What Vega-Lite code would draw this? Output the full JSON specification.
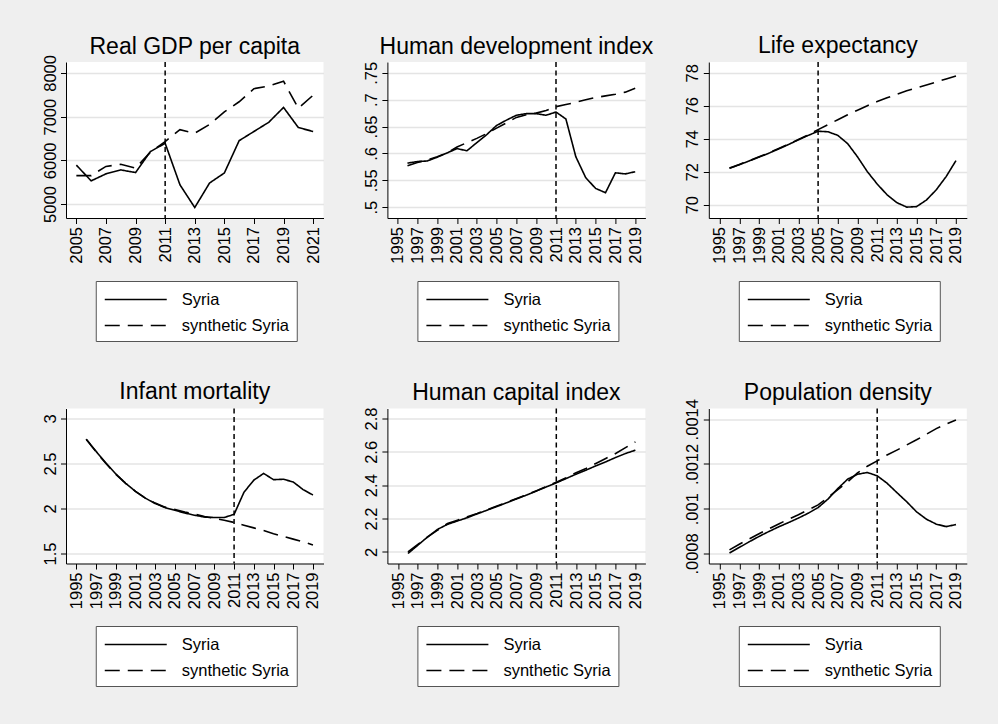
{
  "$schema": "https://vega.github.io/schema/vega-lite/v6.json",
  "background": "#efefef",
  "padding": {"left": 42, "top": 35, "right": 40, "bottom": 45},
  "datasets": {
    "gdp": [
      {"year": 2005, "s": "Syria", "v": 5890}, {"year": 2006, "s": "Syria", "v": 5530}, {"year": 2007, "s": "Syria", "v": 5690}, {"year": 2008, "s": "Syria", "v": 5780}, {"year": 2009, "s": "Syria", "v": 5720}, {"year": 2010, "s": "Syria", "v": 6200}, {"year": 2011, "s": "Syria", "v": 6390}, {"year": 2012, "s": "Syria", "v": 5440}, {"year": 2013, "s": "Syria", "v": 4920}, {"year": 2014, "s": "Syria", "v": 5480}, {"year": 2015, "s": "Syria", "v": 5710}, {"year": 2016, "s": "Syria", "v": 6450}, {"year": 2017, "s": "Syria", "v": 6660}, {"year": 2018, "s": "Syria", "v": 6870}, {"year": 2019, "s": "Syria", "v": 7210}, {"year": 2020, "s": "Syria", "v": 6750}, {"year": 2021, "s": "Syria", "v": 6660},
      {"year": 2005, "s": "synthetic Syria", "v": 5650}, {"year": 2006, "s": "synthetic Syria", "v": 5650}, {"year": 2007, "s": "synthetic Syria", "v": 5860}, {"year": 2008, "s": "synthetic Syria", "v": 5910}, {"year": 2009, "s": "synthetic Syria", "v": 5820}, {"year": 2010, "s": "synthetic Syria", "v": 6185}, {"year": 2011, "s": "synthetic Syria", "v": 6430}, {"year": 2012, "s": "synthetic Syria", "v": 6700}, {"year": 2013, "s": "synthetic Syria", "v": 6620}, {"year": 2014, "s": "synthetic Syria", "v": 6820}, {"year": 2015, "s": "synthetic Syria", "v": 7110}, {"year": 2016, "s": "synthetic Syria", "v": 7340}, {"year": 2017, "s": "synthetic Syria", "v": 7640}, {"year": 2018, "s": "synthetic Syria", "v": 7700}, {"year": 2019, "s": "synthetic Syria", "v": 7810}, {"year": 2020, "s": "synthetic Syria", "v": 7190}, {"year": 2021, "s": "synthetic Syria", "v": 7490}
    ],
    "hdi": [
      {"year": 1996, "s": "Syria", "v": 0.582}, {"year": 1997, "s": "Syria", "v": 0.585}, {"year": 1998, "s": "Syria", "v": 0.586}, {"year": 1999, "s": "Syria", "v": 0.593}, {"year": 2000, "s": "Syria", "v": 0.601}, {"year": 2001, "s": "Syria", "v": 0.609}, {"year": 2002, "s": "Syria", "v": 0.605}, {"year": 2003, "s": "Syria", "v": 0.620}, {"year": 2004, "s": "Syria", "v": 0.635}, {"year": 2005, "s": "Syria", "v": 0.652}, {"year": 2006, "s": "Syria", "v": 0.662}, {"year": 2007, "s": "Syria", "v": 0.671}, {"year": 2008, "s": "Syria", "v": 0.674}, {"year": 2009, "s": "Syria", "v": 0.674}, {"year": 2010, "s": "Syria", "v": 0.671}, {"year": 2011, "s": "Syria", "v": 0.677}, {"year": 2012, "s": "Syria", "v": 0.664}, {"year": 2013, "s": "Syria", "v": 0.594}, {"year": 2014, "s": "Syria", "v": 0.555}, {"year": 2015, "s": "Syria", "v": 0.535}, {"year": 2016, "s": "Syria", "v": 0.527}, {"year": 2017, "s": "Syria", "v": 0.564}, {"year": 2018, "s": "Syria", "v": 0.562}, {"year": 2019, "s": "Syria", "v": 0.566},
      {"year": 1996, "s": "synthetic Syria", "v": 0.577}, {"year": 1997, "s": "synthetic Syria", "v": 0.583}, {"year": 1998, "s": "synthetic Syria", "v": 0.588}, {"year": 1999, "s": "synthetic Syria", "v": 0.594}, {"year": 2000, "s": "synthetic Syria", "v": 0.601}, {"year": 2001, "s": "synthetic Syria", "v": 0.612}, {"year": 2002, "s": "synthetic Syria", "v": 0.620}, {"year": 2003, "s": "synthetic Syria", "v": 0.628}, {"year": 2004, "s": "synthetic Syria", "v": 0.637}, {"year": 2005, "s": "synthetic Syria", "v": 0.647}, {"year": 2006, "s": "synthetic Syria", "v": 0.657}, {"year": 2007, "s": "synthetic Syria", "v": 0.667}, {"year": 2008, "s": "synthetic Syria", "v": 0.672}, {"year": 2009, "s": "synthetic Syria", "v": 0.675}, {"year": 2010, "s": "synthetic Syria", "v": 0.680}, {"year": 2011, "s": "synthetic Syria", "v": 0.687}, {"year": 2012, "s": "synthetic Syria", "v": 0.691}, {"year": 2013, "s": "synthetic Syria", "v": 0.695}, {"year": 2014, "s": "synthetic Syria", "v": 0.700}, {"year": 2015, "s": "synthetic Syria", "v": 0.704}, {"year": 2016, "s": "synthetic Syria", "v": 0.707}, {"year": 2017, "s": "synthetic Syria", "v": 0.710}, {"year": 2018, "s": "synthetic Syria", "v": 0.714}, {"year": 2019, "s": "synthetic Syria", "v": 0.721}
    ],
    "life": [
      {"year": 1996, "s": "Syria", "v": 72.2}, {"year": 1997, "s": "Syria", "v": 72.42}, {"year": 1998, "s": "Syria", "v": 72.65}, {"year": 1999, "s": "Syria", "v": 72.88}, {"year": 2000, "s": "Syria", "v": 73.12}, {"year": 2001, "s": "Syria", "v": 73.38}, {"year": 2002, "s": "Syria", "v": 73.65}, {"year": 2003, "s": "Syria", "v": 73.93}, {"year": 2004, "s": "Syria", "v": 74.2}, {"year": 2005, "s": "Syria", "v": 74.45}, {"year": 2006, "s": "Syria", "v": 74.42}, {"year": 2007, "s": "Syria", "v": 74.2}, {"year": 2008, "s": "Syria", "v": 73.7}, {"year": 2009, "s": "Syria", "v": 72.9}, {"year": 2010, "s": "Syria", "v": 72.0}, {"year": 2011, "s": "Syria", "v": 71.25}, {"year": 2012, "s": "Syria", "v": 70.6}, {"year": 2013, "s": "Syria", "v": 70.12}, {"year": 2014, "s": "Syria", "v": 69.85}, {"year": 2015, "s": "Syria", "v": 69.88}, {"year": 2016, "s": "Syria", "v": 70.28}, {"year": 2017, "s": "Syria", "v": 70.9}, {"year": 2018, "s": "Syria", "v": 71.7}, {"year": 2019, "s": "Syria", "v": 72.67},
      {"year": 1996, "s": "synthetic Syria", "v": 72.22}, {"year": 1997, "s": "synthetic Syria", "v": 72.44}, {"year": 1998, "s": "synthetic Syria", "v": 72.67}, {"year": 1999, "s": "synthetic Syria", "v": 72.9}, {"year": 2000, "s": "synthetic Syria", "v": 73.14}, {"year": 2001, "s": "synthetic Syria", "v": 73.4}, {"year": 2002, "s": "synthetic Syria", "v": 73.67}, {"year": 2003, "s": "synthetic Syria", "v": 73.95}, {"year": 2004, "s": "synthetic Syria", "v": 74.23}, {"year": 2005, "s": "synthetic Syria", "v": 74.55}, {"year": 2006, "s": "synthetic Syria", "v": 74.85}, {"year": 2007, "s": "synthetic Syria", "v": 75.15}, {"year": 2008, "s": "synthetic Syria", "v": 75.45}, {"year": 2009, "s": "synthetic Syria", "v": 75.73}, {"year": 2010, "s": "synthetic Syria", "v": 76.0}, {"year": 2011, "s": "synthetic Syria", "v": 76.25}, {"year": 2012, "s": "synthetic Syria", "v": 76.48}, {"year": 2013, "s": "synthetic Syria", "v": 76.7}, {"year": 2014, "s": "synthetic Syria", "v": 76.9}, {"year": 2015, "s": "synthetic Syria", "v": 77.08}, {"year": 2016, "s": "synthetic Syria", "v": 77.26}, {"year": 2017, "s": "synthetic Syria", "v": 77.44}, {"year": 2018, "s": "synthetic Syria", "v": 77.62}, {"year": 2019, "s": "synthetic Syria", "v": 77.8}
    ],
    "infant": [
      {"year": 1996, "s": "Syria", "v": 2.77}, {"year": 1997, "s": "Syria", "v": 2.635}, {"year": 1998, "s": "Syria", "v": 2.505}, {"year": 1999, "s": "Syria", "v": 2.385}, {"year": 2000, "s": "Syria", "v": 2.28}, {"year": 2001, "s": "Syria", "v": 2.19}, {"year": 2002, "s": "Syria", "v": 2.115}, {"year": 2003, "s": "Syria", "v": 2.055}, {"year": 2004, "s": "Syria", "v": 2.01}, {"year": 2005, "s": "Syria", "v": 1.98}, {"year": 2006, "s": "Syria", "v": 1.95}, {"year": 2007, "s": "Syria", "v": 1.925}, {"year": 2008, "s": "Syria", "v": 1.905}, {"year": 2009, "s": "Syria", "v": 1.9}, {"year": 2010, "s": "Syria", "v": 1.9}, {"year": 2011, "s": "Syria", "v": 1.935}, {"year": 2012, "s": "Syria", "v": 2.18}, {"year": 2013, "s": "Syria", "v": 2.315}, {"year": 2014, "s": "Syria", "v": 2.39}, {"year": 2015, "s": "Syria", "v": 2.32}, {"year": 2016, "s": "Syria", "v": 2.325}, {"year": 2017, "s": "Syria", "v": 2.295}, {"year": 2018, "s": "Syria", "v": 2.21}, {"year": 2019, "s": "Syria", "v": 2.15},
      {"year": 1996, "s": "synthetic Syria", "v": 2.77}, {"year": 1997, "s": "synthetic Syria", "v": 2.63}, {"year": 1998, "s": "synthetic Syria", "v": 2.5}, {"year": 1999, "s": "synthetic Syria", "v": 2.38}, {"year": 2000, "s": "synthetic Syria", "v": 2.28}, {"year": 2001, "s": "synthetic Syria", "v": 2.19}, {"year": 2002, "s": "synthetic Syria", "v": 2.115}, {"year": 2003, "s": "synthetic Syria", "v": 2.06}, {"year": 2004, "s": "synthetic Syria", "v": 2.015}, {"year": 2005, "s": "synthetic Syria", "v": 1.99}, {"year": 2006, "s": "synthetic Syria", "v": 1.96}, {"year": 2007, "s": "synthetic Syria", "v": 1.94}, {"year": 2008, "s": "synthetic Syria", "v": 1.91}, {"year": 2009, "s": "synthetic Syria", "v": 1.89}, {"year": 2010, "s": "synthetic Syria", "v": 1.87}, {"year": 2011, "s": "synthetic Syria", "v": 1.845}, {"year": 2012, "s": "synthetic Syria", "v": 1.815}, {"year": 2013, "s": "synthetic Syria", "v": 1.785}, {"year": 2014, "s": "synthetic Syria", "v": 1.755}, {"year": 2015, "s": "synthetic Syria", "v": 1.72}, {"year": 2016, "s": "synthetic Syria", "v": 1.69}, {"year": 2017, "s": "synthetic Syria", "v": 1.66}, {"year": 2018, "s": "synthetic Syria", "v": 1.63}, {"year": 2019, "s": "synthetic Syria", "v": 1.595}
    ],
    "hci": [
      {"year": 1996, "s": "Syria", "v": 1.99}, {"year": 1997, "s": "Syria", "v": 2.04}, {"year": 1998, "s": "Syria", "v": 2.09}, {"year": 1999, "s": "Syria", "v": 2.135}, {"year": 2000, "s": "Syria", "v": 2.165}, {"year": 2001, "s": "Syria", "v": 2.185}, {"year": 2002, "s": "Syria", "v": 2.205}, {"year": 2003, "s": "Syria", "v": 2.228}, {"year": 2004, "s": "Syria", "v": 2.25}, {"year": 2005, "s": "Syria", "v": 2.272}, {"year": 2006, "s": "Syria", "v": 2.295}, {"year": 2007, "s": "Syria", "v": 2.318}, {"year": 2008, "s": "Syria", "v": 2.341}, {"year": 2009, "s": "Syria", "v": 2.365}, {"year": 2010, "s": "Syria", "v": 2.39}, {"year": 2011, "s": "Syria", "v": 2.414}, {"year": 2012, "s": "Syria", "v": 2.44}, {"year": 2013, "s": "Syria", "v": 2.466}, {"year": 2014, "s": "Syria", "v": 2.49}, {"year": 2015, "s": "Syria", "v": 2.516}, {"year": 2016, "s": "Syria", "v": 2.54}, {"year": 2017, "s": "Syria", "v": 2.566}, {"year": 2018, "s": "Syria", "v": 2.59}, {"year": 2019, "s": "Syria", "v": 2.61},
      {"year": 1996, "s": "synthetic Syria", "v": 2.0}, {"year": 1997, "s": "synthetic Syria", "v": 2.045}, {"year": 1998, "s": "synthetic Syria", "v": 2.09}, {"year": 1999, "s": "synthetic Syria", "v": 2.13}, {"year": 2000, "s": "synthetic Syria", "v": 2.17}, {"year": 2001, "s": "synthetic Syria", "v": 2.19}, {"year": 2002, "s": "synthetic Syria", "v": 2.21}, {"year": 2003, "s": "synthetic Syria", "v": 2.23}, {"year": 2004, "s": "synthetic Syria", "v": 2.252}, {"year": 2005, "s": "synthetic Syria", "v": 2.275}, {"year": 2006, "s": "synthetic Syria", "v": 2.298}, {"year": 2007, "s": "synthetic Syria", "v": 2.32}, {"year": 2008, "s": "synthetic Syria", "v": 2.343}, {"year": 2009, "s": "synthetic Syria", "v": 2.367}, {"year": 2010, "s": "synthetic Syria", "v": 2.392}, {"year": 2011, "s": "synthetic Syria", "v": 2.418}, {"year": 2012, "s": "synthetic Syria", "v": 2.445}, {"year": 2013, "s": "synthetic Syria", "v": 2.475}, {"year": 2014, "s": "synthetic Syria", "v": 2.5}, {"year": 2015, "s": "synthetic Syria", "v": 2.53}, {"year": 2016, "s": "synthetic Syria", "v": 2.56}, {"year": 2017, "s": "synthetic Syria", "v": 2.59}, {"year": 2018, "s": "synthetic Syria", "v": 2.625}, {"year": 2019, "s": "synthetic Syria", "v": 2.66}
    ],
    "pop": [
      {"year": 1996, "s": "Syria", "v": 0.000802}, {"year": 1997, "s": "Syria", "v": 0.000827}, {"year": 1998, "s": "Syria", "v": 0.000852}, {"year": 1999, "s": "Syria", "v": 0.000876}, {"year": 2000, "s": "Syria", "v": 0.000898}, {"year": 2001, "s": "Syria", "v": 0.000919}, {"year": 2002, "s": "Syria", "v": 0.000938}, {"year": 2003, "s": "Syria", "v": 0.000958}, {"year": 2004, "s": "Syria", "v": 0.00098}, {"year": 2005, "s": "Syria", "v": 0.001005}, {"year": 2006, "s": "Syria", "v": 0.001043}, {"year": 2007, "s": "Syria", "v": 0.00109}, {"year": 2008, "s": "Syria", "v": 0.001132}, {"year": 2009, "s": "Syria", "v": 0.001154}, {"year": 2010, "s": "Syria", "v": 0.001162}, {"year": 2011, "s": "Syria", "v": 0.001147}, {"year": 2012, "s": "Syria", "v": 0.001114}, {"year": 2013, "s": "Syria", "v": 0.001072}, {"year": 2014, "s": "Syria", "v": 0.001031}, {"year": 2015, "s": "Syria", "v": 0.000986}, {"year": 2016, "s": "Syria", "v": 0.000953}, {"year": 2017, "s": "Syria", "v": 0.000931}, {"year": 2018, "s": "Syria", "v": 0.00092}, {"year": 2019, "s": "Syria", "v": 0.000929},
      {"year": 1996, "s": "synthetic Syria", "v": 0.000816}, {"year": 1997, "s": "synthetic Syria", "v": 0.000841}, {"year": 1998, "s": "synthetic Syria", "v": 0.000865}, {"year": 1999, "s": "synthetic Syria", "v": 0.000888}, {"year": 2000, "s": "synthetic Syria", "v": 0.00091}, {"year": 2001, "s": "synthetic Syria", "v": 0.000932}, {"year": 2002, "s": "synthetic Syria", "v": 0.000953}, {"year": 2003, "s": "synthetic Syria", "v": 0.000973}, {"year": 2004, "s": "synthetic Syria", "v": 0.000995}, {"year": 2005, "s": "synthetic Syria", "v": 0.001017}, {"year": 2006, "s": "synthetic Syria", "v": 0.00105}, {"year": 2007, "s": "synthetic Syria", "v": 0.001085}, {"year": 2008, "s": "synthetic Syria", "v": 0.00112}, {"year": 2009, "s": "synthetic Syria", "v": 0.00116}, {"year": 2010, "s": "synthetic Syria", "v": 0.00119}, {"year": 2011, "s": "synthetic Syria", "v": 0.001214}, {"year": 2012, "s": "synthetic Syria", "v": 0.00124}, {"year": 2013, "s": "synthetic Syria", "v": 0.001262}, {"year": 2014, "s": "synthetic Syria", "v": 0.001285}, {"year": 2015, "s": "synthetic Syria", "v": 0.001308}, {"year": 2016, "s": "synthetic Syria", "v": 0.001333}, {"year": 2017, "s": "synthetic Syria", "v": 0.001358}, {"year": 2018, "s": "synthetic Syria", "v": 0.001378}, {"year": 2019, "s": "synthetic Syria", "v": 0.001397}
    ]
  },
  "columns": 3,
  "bounds": "flush",
  "spacing": {"row": 190.5, "column": 63.4},
  "resolve": {"scale": {"x": "independent", "y": "independent", "strokeDash": "independent"}, "legend": {"strokeDash": "independent"}, "axis": {"x": "independent", "y": "independent"}},
  "concat": [
    {
      "title": {"text": "Real GDP per capita", "offset": -4},
      "width": 257.5, "height": 156,
      "data": {"name": "gdp"},
      "layer": [
        {
          "mark": {"type": "line", "color": "black", "strokeWidth": 1.6},
          "encoding": {
            "x": {"field": "year", "type": "quantitative", "scale": {"domain": [2004.3, 2021.7], "nice": false, "zero": false}, "axis": {"title": null, "values": [2005, 2007, 2009, 2011, 2013, 2015, 2017, 2019, 2021], "tickCount": 40, "format": "d"}},
            "y": {"field": "v", "type": "quantitative", "scale": {"domain": [4680, 8250], "nice": false, "zero": false}, "axis": {"title": null, "values": [5000, 6000, 7000, 8000], "tickCount": 40, "format": "d"}},
            "strokeDash": {"field": "s", "type": "nominal", "scale": {"domain": ["Syria", "synthetic Syria"], "range": [[1, 0], [15, 8]]}, "legend": {"title": null, "legendX": 29.75, "legendY": 219}}
          }
        },
        {
          "data": {"values": [{"year": 2011}]},
          "mark": {"type": "rule", "color": "black", "strokeWidth": 1.5, "strokeDash": [5, 3.5]},
          "encoding": {"x": {"field": "year", "type": "quantitative"}}
        }
      ]
    },
    {
      "title": {"text": "Human development index", "offset": 2.6},
      "width": 258, "height": 156,
      "data": {"name": "hdi"},
      "layer": [
        {
          "mark": {"type": "line", "color": "black", "strokeWidth": 1.6},
          "encoding": {
            "x": {"field": "year", "type": "quantitative", "scale": {"domain": [1993.97, 2020.03], "nice": false, "zero": false}, "axis": {"title": null, "values": [1995, 1997, 1999, 2001, 2003, 2005, 2007, 2009, 2011, 2013, 2015, 2017, 2019], "tickCount": 40, "format": "d"}},
            "y": {"field": "v", "type": "quantitative", "scale": {"domain": [0.48, 0.77], "nice": false, "zero": false}, "axis": {"title": null, "values": [0.5, 0.55, 0.6, 0.65, 0.7, 0.75], "tickCount": 40, "labelExpr": "slice(format(datum.value, '.2~f'), 1)"}},
            "strokeDash": {"field": "s", "type": "nominal", "scale": {"domain": ["Syria", "synthetic Syria"], "range": [[1, 0], [15, 8]]}, "legend": {"title": null, "legendX": 30, "legendY": 219}}
          }
        },
        {
          "data": {"values": [{"year": 2011}]},
          "mark": {"type": "rule", "color": "black", "strokeWidth": 1.5, "strokeDash": [5, 3.5]},
          "encoding": {"x": {"field": "year", "type": "quantitative"}}
        }
      ]
    },
    {
      "title": {"text": "Life expectancy", "offset": 3},
      "width": 258, "height": 156,
      "data": {"name": "life"},
      "layer": [
        {
          "mark": {"type": "line", "color": "black", "strokeWidth": 1.6},
          "encoding": {
            "x": {"field": "year", "type": "quantitative", "scale": {"domain": [1993.9, 2020.1], "nice": false, "zero": false}, "axis": {"title": null, "values": [1995, 1997, 1999, 2001, 2003, 2005, 2007, 2009, 2011, 2013, 2015, 2017, 2019], "tickCount": 40, "format": "d"}},
            "y": {"field": "v", "type": "quantitative", "scale": {"domain": [69.19, 78.65], "nice": false, "zero": false}, "axis": {"title": null, "values": [70, 72, 74, 76, 78], "tickCount": 40, "format": "d"}},
            "strokeDash": {"field": "s", "type": "nominal", "scale": {"domain": ["Syria", "synthetic Syria"], "range": [[1, 0], [15, 8]]}, "legend": {"title": null, "legendX": 30, "legendY": 219}}
          }
        },
        {
          "data": {"values": [{"year": 2005}]},
          "mark": {"type": "rule", "color": "black", "strokeWidth": 1.5, "strokeDash": [5, 3.5]},
          "encoding": {"x": {"field": "year", "type": "quantitative"}}
        }
      ]
    },
    {
      "title": {"text": "Infant mortality", "offset": 3.5},
      "width": 257.5, "height": 155,
      "data": {"name": "infant"},
      "layer": [
        {
          "mark": {"type": "line", "color": "black", "strokeWidth": 1.6},
          "encoding": {
            "x": {"field": "year", "type": "quantitative", "scale": {"domain": [1993.95, 2020.07], "nice": false, "zero": false}, "axis": {"title": null, "values": [1995, 1997, 1999, 2001, 2003, 2005, 2007, 2009, 2011, 2013, 2015, 2017, 2019], "tickCount": 40, "format": "d"}},
            "y": {"field": "v", "type": "quantitative", "scale": {"domain": [1.389, 3.111], "nice": false, "zero": false}, "axis": {"title": null, "values": [1.5, 2, 2.5, 3], "tickCount": 40, "format": ".1~f"}},
            "strokeDash": {"field": "s", "type": "nominal", "scale": {"domain": ["Syria", "synthetic Syria"], "range": [[1, 0], [15, 8]]}, "legend": {"title": null, "legendX": 29.75, "legendY": 217.5}}
          }
        },
        {
          "data": {"values": [{"year": 2011}]},
          "mark": {"type": "rule", "color": "black", "strokeWidth": 1.5, "strokeDash": [5, 3.5]},
          "encoding": {"x": {"field": "year", "type": "quantitative"}}
        }
      ]
    },
    {
      "title": {"text": "Human capital index", "offset": 2.5},
      "width": 258, "height": 155,
      "data": {"name": "hci"},
      "layer": [
        {
          "mark": {"type": "line", "color": "black", "strokeWidth": 1.6},
          "encoding": {
            "x": {"field": "year", "type": "quantitative", "scale": {"domain": [1993.92, 2020.01], "nice": false, "zero": false}, "axis": {"title": null, "values": [1995, 1997, 1999, 2001, 2003, 2005, 2007, 2009, 2011, 2013, 2015, 2017, 2019], "tickCount": 40, "format": "d"}},
            "y": {"field": "v", "type": "quantitative", "scale": {"domain": [1.93, 2.86], "nice": false, "zero": false}, "axis": {"title": null, "values": [2, 2.2, 2.4, 2.6, 2.8], "tickCount": 40, "format": ".1~f"}},
            "strokeDash": {"field": "s", "type": "nominal", "scale": {"domain": ["Syria", "synthetic Syria"], "range": [[1, 0], [15, 8]]}, "legend": {"title": null, "legendX": 30, "legendY": 217.5}}
          }
        },
        {
          "data": {"values": [{"year": 2011}]},
          "mark": {"type": "rule", "color": "black", "strokeWidth": 1.5, "strokeDash": [5, 3.5]},
          "encoding": {"x": {"field": "year", "type": "quantitative"}}
        }
      ]
    },
    {
      "title": {"text": "Population density", "offset": -6},
      "width": 258, "height": 155,
      "data": {"name": "pop"},
      "layer": [
        {
          "mark": {"type": "line", "color": "black", "strokeWidth": 1.6},
          "encoding": {
            "x": {"field": "year", "type": "quantitative", "scale": {"domain": [1993.9, 2020.1], "nice": false, "zero": false}, "axis": {"title": null, "values": [1995, 1997, 1999, 2001, 2003, 2005, 2007, 2009, 2011, 2013, 2015, 2017, 2019], "tickCount": 40, "format": "d"}},
            "y": {"field": "v", "type": "quantitative", "scale": {"domain": [0.000755, 0.001448], "nice": false, "zero": false}, "axis": {"title": null, "values": [0.0008, 0.001, 0.0012, 0.0014], "tickCount": 40, "labelExpr": "slice(format(datum.value, '.4~f'), 1)"}},
            "strokeDash": {"field": "s", "type": "nominal", "scale": {"domain": ["Syria", "synthetic Syria"], "range": [[1, 0], [15, 8]]}, "legend": {"title": null, "legendX": 30, "legendY": 217.5}}
          }
        },
        {
          "data": {"values": [{"year": 2011}]},
          "mark": {"type": "rule", "color": "black", "strokeWidth": 1.5, "strokeDash": [5, 3.5]},
          "encoding": {"x": {"field": "year", "type": "quantitative"}}
        }
      ]
    }
  ],
  "config": {
    "font": "Liberation Sans",
    "view": {"fill": "white", "stroke": null},
    "title": {"fontSize": 23, "font": "Liberation Sans", "fontWeight": "normal", "color": "black", "anchor": "middle", "frame": "group", "baseline": "alphabetic"},
    "axis": {"domainColor": "black", "domainWidth": 1, "tickColor": "black", "tickSize": 5.5, "tickWidth": 1, "labelFontSize": 16.5, "labelColor": "black", "labelFont": "Liberation Sans", "labelFlush": false, "labelOverlap": false, "labelBound": false},
    "axisX": {"grid": false, "labelAngle": -90, "labelAlign": "right", "labelBaseline": "middle", "labelPadding": 3},
    "axisY": {"grid": true, "gridColor": "#e4e4e4", "gridWidth": 1.3, "labelAngle": -90, "labelAlign": "center", "labelBaseline": "bottom", "labelPadding": 2.5},
    "legend": {"orient": "none", "direction": "vertical", "fillColor": "white", "strokeColor": "#555555", "padding": 7, "symbolType": "M-3,0H3", "symbolSize": 427, "symbolOffset": 21.5, "symbolStrokeWidth": 1.5, "symbolStrokeColor": "black", "symbolFillColor": "transparent", "labelFontSize": 16.5, "labelFont": "Liberation Sans", "labelColor": "black", "labelOffset": 34.5, "rowPadding": 6, "labelLimit": 300}
  }
}
